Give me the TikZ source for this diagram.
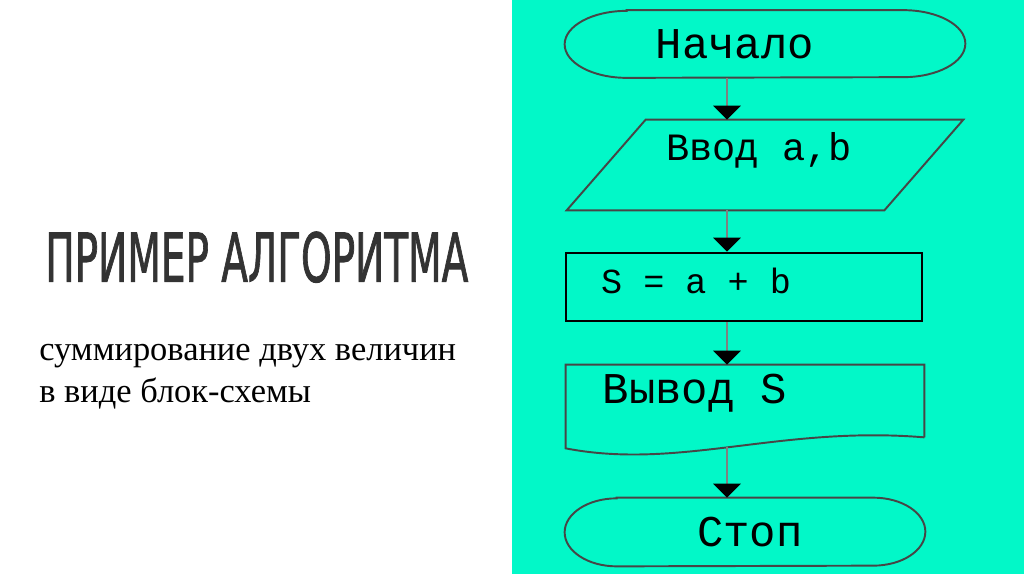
\documentclass[tikz,border=0pt]{standalone}
\usepackage{fontspec}
\setmainfont{Liberation Serif}
\newfontfamily\chartfont{Liberation Mono}
\newfontfamily\titlefont[FakeBold=1.6]{DejaVu Sans}
\usetikzlibrary{arrows.meta, calc}
\definecolor{mint}{RGB}{2,248,200}
\definecolor{inkgray}{RGB}{70,70,70}
% terminal outline: node, end radius, half height
\newcommand{\termline}[3]{\draw[outline] ([xshift=#2]#1.north west) -- ([xshift=-#2]#1.north east) arc[start angle=90, end angle=-90, x radius=#2, y radius=#3] -- ([xshift=#2]#1.south west) arc[start angle=270, end angle=90, x radius=#2, y radius=#3] -- cycle;}

\begin{document}
\begin{tikzpicture}[
    shapebox/.style={draw=none, inner sep=0pt},
    chartlabel/.style={font=\chartfont\fontsize{25}{28}\selectfont, inner sep=0pt},
    outline/.style={draw=inkgray, line width=1.1pt},
    flow/.style={draw=gray, line width=1.7pt, -{Triangle[width=0.54cm, length=0.28cm, color=black]}}
  ]
    \useasboundingbox (0,0) rectangle (20.48,-11.48);
    \fill[white] (0,0) rectangle (20.48,-11.48);
    \fill[mint] (10.24,0) rectangle (20.48,-11.48);

    % left side
    \node [anchor=south west, inner sep=0pt, text=black!80] (title) at (0.9,-5.66)
        {\resizebox{8.46cm}{1.0cm}{\titlefont ПРИМЕР АЛГОРИТМА}};
    \node [anchor=base west, inner sep=0pt, align=left, font=\fontsize{19.6}{23.8}\selectfont] (subtitle) at (0.78,-8.04)
        {суммирование двух величин\\в виде блок-схемы};

    % flowchart
    \coordinate (axis) at (14.54,0);
    \node [shapebox, minimum width=8cm, minimum height=1.34cm] (start) at (15.30,-0.88) {};
    \node [chartlabel] (start-text) at ([xshift=-0.6cm]start.center) {Начало};
    \node [shapebox, minimum width=7.92cm, minimum height=1.8cm] (input) at (15.30,-3.30) {};
    \node [chartlabel, font=\chartfont\fontsize{22}{26}\selectfont] (input-text) at ([xshift=-0.12cm, yshift=0.3cm]input.center) {Ввод a,b};
    \node [draw=black, line width=1.5pt, minimum width=7.12cm, minimum height=1.36cm] (sum) at (14.88,-5.74) {};
    \node [chartlabel, font=\chartfont\fontsize{20}{24}\selectfont] (sum-text) at ([xshift=-0.96cm, yshift=0.12cm]sum.center) {S = a + b};
    \node [shapebox, minimum width=7.16cm, minimum height=1.44cm] (output) at (14.90,-8.02) {};
    \node [chartlabel] (output-text) at ([xshift=-1.0cm, yshift=0.16cm]output.center) {Вывод S};
    \node [shapebox, minimum width=7.2cm, minimum height=1.36cm] (stop) at (14.90,-10.64) {};
    \node [chartlabel] (stop-text) at ([xshift=0.1cm]stop.center) {Стоп};

    \termline{start}{1.24cm}{0.67cm}
    \draw[outline] (input.south west) -- ([xshift=-1.58cm]input.south east) -- (input.north east) -- ([xshift=1.58cm]input.north west) -- cycle;
    \draw[outline] (output.south east) -- (output.north east) -- (output.north west) -- ([yshift=-0.22cm]output.south west)
        .. controls ($(output.south west)+(2.28,-0.66)$) and ($(output.south west)+(4.28,0.24)$) .. coordinate[pos=0.5] (output-wave) (output.south east);
    \termline{stop}{1.04cm}{0.68cm}

    \draw[flow] (start.south -| axis) -- (input.north -| axis);
    \draw[flow] (input.south -| axis) -- (sum.north -| axis);
    \draw[flow] (sum.south -| axis) -- (output.north -| axis);
    \draw[flow] (output-wave -| axis) -- (stop.north -| axis);
\end{tikzpicture}
\end{document}
